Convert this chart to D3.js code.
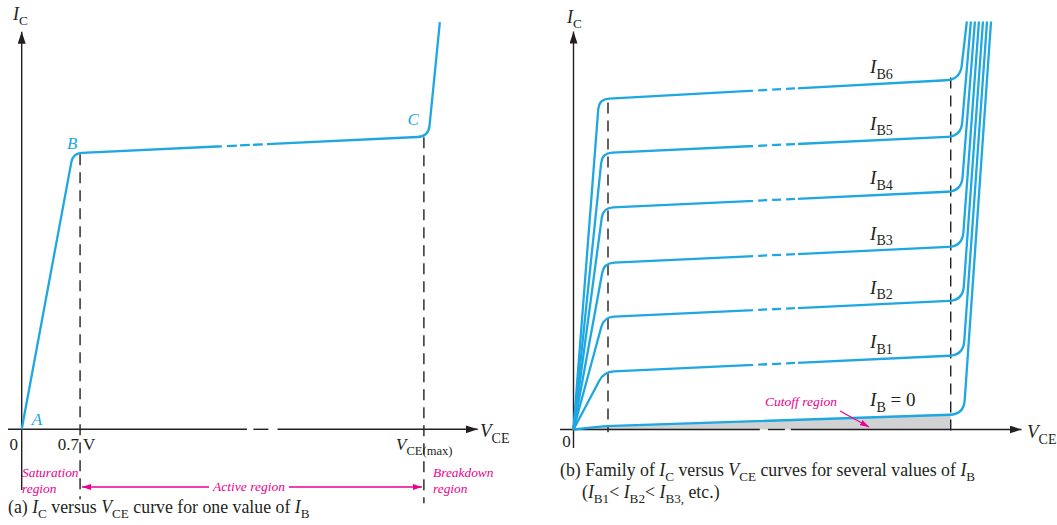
<!DOCTYPE html>
<html>
<head>
<meta charset="utf-8">
<script src="https://cdn.jsdelivr.net/npm/d3@7"></script>
<style>
body{margin:0;background:#fff;}
svg{display:block;font-family:"Liberation Serif","Times New Roman",serif;}
</style>
</head>
<body>
<script>
(function(){

//chart units: V_CE and I_C both on an arbitrary 0..100 scale

//panel (a): one curve, origin -> saturation knee -> breakdown bend -> top
var curveA_V = [0, 11.25, 89.2, 91.7];
var curveA_I = [0, 69.0, 73.2, 101.8];
var breakA = [43.9, 53.8];               //dashed stretch of the curve
var axisGapA = [49.4, 50.8, 54.1, 56.1]; //x axis: gap, dash, gap
var satA = 12.8, maxA = 88.2;            //0.7 V and V_CE(max)

//panel (b): family of curves I_B = 0 .. I_B6
var ibNames = ["0", "1", "2", "3", "4", "5", "6"];
var kneeV = [6.6, 6.8, 6.8, 6.8, 6.6, 6.4, 5.7];
var kneeI = [0.8, 14.4, 28.1, 41.6, 55.4, 69.1, 82.6];
var bendV = [87.1, 87.0, 86.9, 86.8, 86.6, 86.5, 86.3];
var bendI = [3.8, 18.6, 32.3, 45.8, 59.6, 73.3, 87.5];
var topV  = [93.2, 92.3, 91.4, 90.5, 89.6, 88.7, 87.8];
var topI = 102;
var breakB = [40.1, 50.1];
var axisGapB = [41.6, 43.4, 47.2, 48.5];
var satB = 7.7, maxB = 84.2;

//colours
var blue = "#1ea7e1", ink = "#231f20", pink = "#ec008c", grey = "#d1d2d4";

var svg = d3.select("body").append("svg")
    .attr("width", 1057)
    .attr("height", 525)
    .attr("font-family", "Liberation Serif, Times New Roman, serif");

var defs = svg.append("defs");
function marker(id, w, h, col){
    defs.append("marker")
        .attr("id", id)
        .attr("viewBox", "0 0 " + w + " " + h)
        .attr("refX", w).attr("refY", h / 2)
        .attr("markerWidth", w).attr("markerHeight", h)
        .attr("markerUnits", "userSpaceOnUse")
        .attr("orient", "auto-start-reverse")
        .append("path")
        .attr("d", "M0,0L" + w + "," + (h / 2) + "L0," + h + "Z")
        .attr("fill", col);
};
marker("axArrow", 12, 8, ink);
marker("pkArrow", 9, 6, pink);

//panel scales
var xA = d3.scaleLinear().domain([0, 100]).range([21.7, 477.7]);
var yA = d3.scaleLinear().domain([0, 100]).range([429.3, 29.3]);
var xB = d3.scaleLinear().domain([0, 100]).range([573.5, 1021.5]);
var yB = d3.scaleLinear().domain([0, 100]).range([429.5, 29.5]);

//polyline with rounded (quadratic) corners
function roundedPath(pts, radii){
    var p = d3.path();
    p.moveTo(pts[0][0], pts[0][1]);
    for (var i = 1; i < pts.length - 1; i++){
        var a = pts[i - 1], b = pts[i], c = pts[i + 1];
        var d1 = Math.hypot(b[0] - a[0], b[1] - a[1]),
            d2 = Math.hypot(c[0] - b[0], c[1] - b[1]);
        var r1 = Math.min(radii[i - 1], d1 / 2), r2 = Math.min(radii[i - 1], d2 / 2);
        p.lineTo(b[0] - (b[0] - a[0]) * r1 / d1, b[1] - (b[1] - a[1]) * r1 / d1);
        p.quadraticCurveTo(b[0], b[1], b[0] + (c[0] - b[0]) * r2 / d2, b[1] + (c[1] - b[1]) * r2 / d2);
    };
    var last = pts[pts.length - 1];
    p.lineTo(last[0], last[1]);
    return p.toString();
};

//text with italic / subscript pieces
function richText(g, x, y, parts, size, anchor, col){
    var t = g.append("text")
        .attr("x", x).attr("y", y)
        .attr("font-size", size)
        .attr("text-anchor", anchor || "start")
        .attr("fill", col || ink);
    var shift = 0;
    parts.forEach(function(p){
        var s = t.append("tspan").text(p[0]);
        var want = p[1] == "s" ? size * 0.3 : 0;
        if (want != shift){ s.attr("dy", want - shift); shift = want; }
        if (p[1] == "i") s.attr("font-style", "italic");
        if (p[1] == "s") s.attr("font-size", size * 0.74);
    });
    return t;
};

//axes with a break in the x axis
function drawAxes(g, x, y, gap, xLo, yLo, yHi){
    var y0 = y(0);
    g.append("line").attr("x1", x(xLo)).attr("x2", x(gap[0])).attr("y1", y0).attr("y2", y0);
    g.append("line").attr("x1", x(gap[1])).attr("x2", x(gap[2])).attr("y1", y0).attr("y2", y0);
    g.append("line").attr("x1", x(gap[3])).attr("x2", x(100)).attr("y1", y0).attr("y2", y0)
        .attr("marker-end", "url(#axArrow)");
    g.append("line").attr("x1", x(0)).attr("x2", x(0)).attr("y1", y(yLo)).attr("y2", y(yHi))
        .attr("marker-end", "url(#axArrow)");
    g.selectAll("line").attr("stroke", ink).attr("stroke-width", 1.4);
};

function dashedV(g, x, top, bottom){
    g.append("line")
        .attr("x1", x).attr("x2", x).attr("y1", top).attr("y2", bottom)
        .attr("stroke", ink).attr("stroke-width", 1.3)
        .attr("stroke-dasharray", "11,7");
};

//curve drawn solid except across the break, where it is dashed
function brokenCurve(g, d, p1, p2, bx0, bx1, pattern, clipId){
    g.append("path")
        .attr("d", d)
        .attr("fill", "none")
        .attr("stroke", blue).attr("stroke-width", 2.3)
        .attr("clip-path", clipId ? "url(#" + clipId + ")" : null);
    if (!clipId) return;
    var t0 = (bx0 - p1[0]) / (p2[0] - p1[0]), t1 = (bx1 - p1[0]) / (p2[0] - p1[0]);
    g.append("line")
        .attr("x1", bx0).attr("y1", p1[1] + (p2[1] - p1[1]) * t0)
        .attr("x2", bx1).attr("y2", p1[1] + (p2[1] - p1[1]) * t1)
        .attr("stroke", blue).attr("stroke-width", 2.3)
        .attr("stroke-dasharray", pattern);
};

function breakClip(id, x0, x1){
    var c = defs.append("clipPath").attr("id", id);
    c.append("rect").attr("x", 0).attr("y", 0).attr("width", x0).attr("height", 525);
    c.append("rect").attr("x", x1).attr("y", 0).attr("width", 1057 - x1).attr("height", 525);
};

//---------------- panel (a) ----------------
var ga = svg.append("g").attr("class", "panelA");

dashedV(ga, xA(satA), yA(68.75), yA(-17.5));
dashedV(ga, xA(maxA), yA(73), yA(-18.5));
drawAxes(ga, xA, yA, axisGapA, -3, -15.2, 99.4);

breakClip("clipA", xA(breakA[0]), xA(breakA[1]));
var ptsA = curveA_V.map(function(v, i){ return [xA(v), yA(curveA_I[i])]; });
brokenCurve(ga, roundedPath(ptsA, [9, 11]), ptsA[1], ptsA[2],
    xA(breakA[0]) + 5, xA(breakA[1]) - 4, "10,3", "clipA");

//point labels A, B, C
[["A", ptsA[0], 10, -4], ["B", ptsA[1], -6, -4], ["C", ptsA[2], -21, -11.6]].forEach(function(l){
    ga.append("text")
        .attr("x", l[1][0] + l[2]).attr("y", l[1][1] + l[3])
        .attr("font-size", 17).attr("font-style", "italic")
        .attr("fill", blue).text(l[0]);
});

richText(ga, 13, 20, [["I", "i"], ["C", "s"]], 18);
richText(ga, 480, 437, [["V", "i"], ["CE", "s"]], 19);
richText(ga, xA(0) - 8, 450, [["0", "n"]], 17, "middle");
richText(ga, xA(satA) - 1, 450, [["0.7", "n"]], 17, "end");
richText(ga, xA(satA) + 3, 450, [["V", "n"]], 17);
richText(ga, 396, 450, [["V", "i"], ["CE(max)", "s"]], 17);

//region annotations
richText(ga, 22, 477, [["Saturation", "i"]], 13.4, "start", pink);
richText(ga, 22, 493, [["region", "i"]], 13.4, "start", pink);
richText(ga, 433, 477, [["Breakdown", "i"]], 13.4, "start", pink);
richText(ga, 433, 493, [["region", "i"]], 13.4, "start", pink);
ga.append("line")
    .attr("x1", xA(satA) + 2).attr("x2", xA(maxA) - 2)
    .attr("y1", 487).attr("y2", 487)
    .attr("stroke", pink).attr("stroke-width", 1.3)
    .attr("marker-start", "url(#pkArrow)").attr("marker-end", "url(#pkArrow)");
ga.append("rect").attr("x", 209).attr("y", 479).attr("width", 80).attr("height", 16).attr("fill", "#fff");
richText(ga, 249, 491, [["Active region", "i"]], 13.5, "middle", pink);

richText(ga, 8, 513, [["(a) ", "n"], ["I", "i"], ["C", "s"], [" versus ", "n"], ["V", "i"], ["CE", "s"],
    [" curve for one value of ", "n"], ["I", "i"], ["B", "s"]], 17.8);

//---------------- panel (b) ----------------
var gb = svg.append("g").attr("class", "panelB");

//cutoff region shading under I_B = 0
var t0 = (maxB - kneeV[0]) / (bendV[0] - kneeV[0]);
var cutoff = [[0, 0], [kneeV[0], kneeI[0]], [maxB, kneeI[0] + (bendI[0] - kneeI[0]) * t0], [maxB, 0]];
gb.append("path")
    .attr("d", d3.line().x(function(d){ return xB(d[0]); }).y(function(d){ return yB(d[1]); })(cutoff) + "Z")
    .attr("fill", grey);

dashedV(gb, xB(satB), yB(81.75), yB(-0.7));
dashedV(gb, xB(maxB), yB(88), yB(-0.7));
drawAxes(gb, xB, yB, axisGapB, -3, -4.6, 99.5);

breakClip("clipB", xB(breakB[0]), xB(breakB[1]));
ibNames.forEach(function(name, i){
    var pts = [[xB(0), yB(0)], [xB(kneeV[i]), yB(kneeI[i])], [xB(bendV[i]), yB(bendI[i])], [xB(topV[i]), yB(topI)]];
    brokenCurve(gb, roundedPath(pts, [10, 14]), pts[1], pts[2],
        xB(breakB[0]) + 5, xB(breakB[1]) - 3, "9,5", i > 0 ? "clipB" : null);

    //curve label, just above the flat part
    var lx = xB(66.2);
    var ly = pts[1][1] + (pts[2][1] - pts[1][1]) * (lx - pts[1][0]) / (pts[2][0] - pts[1][0]) - 11;
    var parts = i == 0 ? [["I", "i"], ["B", "s"], [" = 0", "n"]] : [["I", "i"], ["B" + name, "s"]];
    richText(gb, lx, ly, parts, 19);
});

richText(gb, 567, 23, [["I", "i"], ["C", "s"]], 18);
richText(gb, 1027, 438, [["V", "i"], ["CE", "s"]], 19);
richText(gb, xB(0) - 7, 447, [["0", "n"]], 17, "middle");

richText(gb, 765, 406, [["Cutoff region", "i"]], 13.5, "start", pink);
gb.append("line")
    .attr("x1", 840).attr("y1", 411).attr("x2", 869).attr("y2", 427)
    .attr("stroke", pink).attr("stroke-width", 1.2)
    .attr("marker-end", "url(#pkArrow)");

richText(gb, 560, 476, [["(b) Family of ", "n"], ["I", "i"], ["C", "s"], [" versus ", "n"], ["V", "i"], ["CE", "s"],
    [" curves for several values of ", "n"], ["I", "i"], ["B", "s"]], 17.8);
richText(gb, 582, 498, [["(", "n"], ["I", "i"], ["B1", "s"], ["< ", "n"], ["I", "i"], ["B2", "s"], ["< ", "n"],
    ["I", "i"], ["B3,", "s"], [" etc.)", "n"]], 17.8);

})();
</script>
</body>
</html>
